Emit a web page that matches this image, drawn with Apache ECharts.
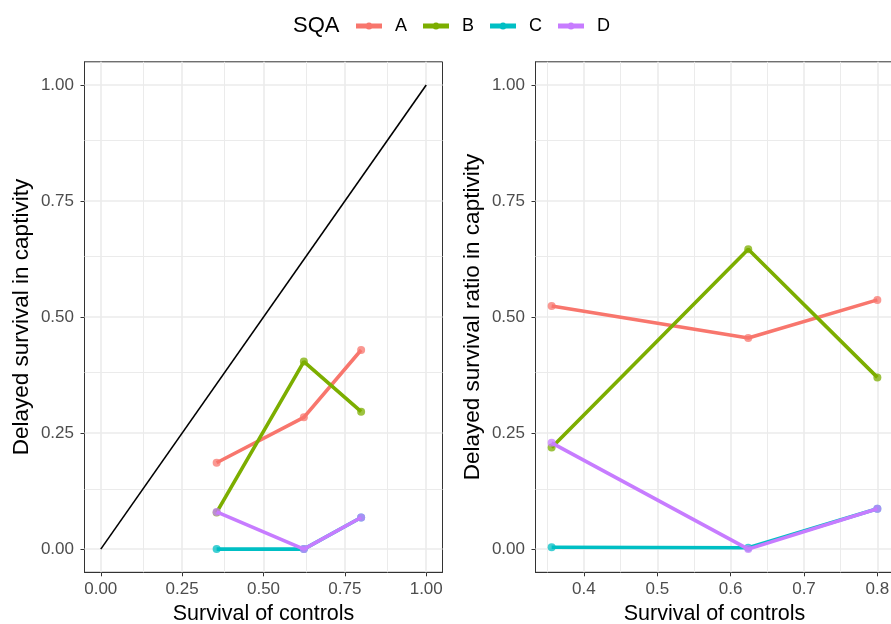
<!DOCTYPE html>
<html>
<head>
<meta charset="utf-8">
<script src="https://cdn.jsdelivr.net/npm/echarts@6/dist/echarts.min.js"></script>
<style>html,body{margin:0;padding:0;background:#fff}#c{width:891px;height:624px}</style>
</head>
<body>
<div id="c"></div>
<script>
// ---- data ----
const groups = ['A', 'B', 'C', 'D'];
const colors = ['#F8766D', '#7CAE00', '#00BFC4', '#C77CFF'];
const controlSurvival = [0.356, 0.624, 0.8];
const delayedA = [0.186, 0.284, 0.429];
const delayedB = [0.079, 0.404, 0.296];
const delayedC = [0.0, 0.0, 0.068];
const delayedD = [0.080, 0.0, 0.068];
const ratioA = [0.524, 0.455, 0.537];
const ratioB = [0.219, 0.646, 0.370];
const ratioC = [0.004, 0.003, 0.087];
const ratioD = [0.229, 0.0, 0.087];
const identityLine = [[0, 0], [1, 1]];
const leftXTicks = [0, 0.25, 0.5, 0.75, 1];
const leftXMinor = [0.125, 0.375, 0.625, 0.875];
const rightXTicks = [0.4, 0.5, 0.6, 0.7, 0.8];
const rightXMinor = [0.35, 0.45, 0.55, 0.65, 0.75];
const yTicks = [0, 0.25, 0.5, 0.75, 1];
const yMinor = [0.125, 0.375, 0.625, 0.875];

const delayed = [delayedA, delayedB, delayedC, delayedD];
const ratio = [ratioA, ratioB, ratioC, ratioD];

const FONT = 'Liberation Sans, Arial, sans-serif';
const gridColor = '#EBEBEB';
const legendIcon = 'path://M0,2.5H26V7.5H0Z M9.5,5A3.5,3.5 0 1,1 16.5,5A3.5,3.5 0 1,1 9.5,5Z';

function gridLines(xMajor, xMinor) {
  const d = [];
  xMinor.forEach(v => d.push({xAxis: v, lineStyle: {width: 1, color: gridColor}}));
  yMinor.forEach(v => d.push({yAxis: v, lineStyle: {width: 1, color: gridColor}}));
  xMajor.forEach(v => d.push({xAxis: v, lineStyle: {width: 1.6, color: gridColor}}));
  yTicks.forEach(v => d.push({yAxis: v, lineStyle: {width: 1.6, color: gridColor}}));
  return {
    silent: true, symbol: 'none', z: 1,
    label: {show: false},
    emphasis: {disabled: true},
    animation: false,
    lineStyle: {type: 'solid', color: gridColor},
    data: d
  };
}

function xAxisDef(idx, min, max, ticks, digits) {
  return {
    type: 'value', gridIndex: idx, min: min, max: max,
    name: 'Survival of controls', nameLocation: 'middle', nameGap: 29,
    nameTextStyle: {fontFamily: FONT, fontSize: 21.5, color: '#000'},
    axisLine: {show: true, onZero: false, lineStyle: {color: '#333', width: 1}},
    axisTick: {show: true, length: 4, customValues: ticks, lineStyle: {color: '#333', width: 1}},
    axisLabel: {show: true, customValues: ticks, margin: 9, fontFamily: FONT, fontSize: 17, color: '#4D4D4D',
      formatter: v => Number(v).toFixed(digits)},
    splitLine: {show: false}
  };
}
function yAxisDef(idx, name) {
  return {
    type: 'value', gridIndex: idx, min: -0.05, max: 1.05,
    name: name, nameLocation: 'middle', nameGap: 51, nameRotate: 90,
    nameTextStyle: {fontFamily: FONT, fontSize: 22.5, color: '#000'},
    axisLine: {show: true, onZero: false, lineStyle: {color: '#333', width: 1}},
    axisTick: {show: true, length: 4, customValues: yTicks, lineStyle: {color: '#333', width: 1}},
    axisLabel: {show: true, customValues: yTicks, margin: 10.5, fontFamily: FONT, fontSize: 17, color: '#4D4D4D',
      formatter: v => Number(v).toFixed(2)},
    splitLine: {show: false}
  };
}

const series = [];
series.push({
  type: 'line', xAxisIndex: 0, yAxisIndex: 0, data: identityLine,
  symbol: 'none', lineStyle: {color: '#000', width: 1.6}, z: 2, silent: true,
  markLine: gridLines(leftXTicks, leftXMinor)
});
series.push({
  type: 'line', xAxisIndex: 1, yAxisIndex: 1, data: [],
  symbol: 'none', silent: true, z: 1,
  markLine: gridLines(rightXTicks, rightXMinor)
});
groups.forEach((g, i) => {
  [0, 1].forEach(p => {
    const vals = p === 0 ? delayed[i] : ratio[i];
    series.push({
      name: g, type: 'line', xAxisIndex: p, yAxisIndex: p,
      data: controlSurvival.map((x, k) => [x, vals[k]]),
      symbol: 'circle', symbolSize: 8, showSymbol: true,
      lineStyle: {color: colors[i], width: 3.6},
      itemStyle: {color: colors[i], opacity: 0.75, borderWidth: 0},
      z: 3 + i, clip: false, animation: false
    });
  });
});

const chart = echarts.init(document.getElementById('c'), null, {renderer: 'canvas'});
chart.setOption({
  animation: false,
  backgroundColor: '#fff',
  color: colors,
  graphic: [{
    type: 'text', left: 293, top: 15,
    style: {text: 'SQA', fontFamily: FONT, fontSize: 22, fill: '#000'}
  }],
  legend: {
    data: groups.map(g => ({name: g, icon: legendIcon, itemStyle: {opacity: 1, borderWidth: 0}})),
    left: 356, top: 17, orient: 'horizontal', padding: 0,
    itemWidth: 26, itemHeight: 10, itemGap: 16,
    textStyle: {fontFamily: FONT, fontSize: 18, color: '#000', padding: [0, 0, 0, 8]},
    selectedMode: false
  },
  grid: [
    {left: 84.5, top: 61.8, width: 358, height: 510.5, show: true, borderColor: '#333', borderWidth: 1, backgroundColor: '#fff', containLabel: false, outerBoundsMode: 'none'},
    {left: 535.5, top: 61.8, width: 358, height: 510.5, show: true, borderColor: '#333', borderWidth: 1, backgroundColor: '#fff', containLabel: false, outerBoundsMode: 'none'}
  ],
  xAxis: [
    xAxisDef(0, -0.05, 1.05, leftXTicks, 2),
    xAxisDef(1, 0.334, 0.822, rightXTicks, 1)
  ],
  yAxis: [
    yAxisDef(0, 'Delayed survival in captivity'),
    yAxisDef(1, 'Delayed survival ratio in captivity')
  ],
  series: series
});
</script>
</body>
</html>
